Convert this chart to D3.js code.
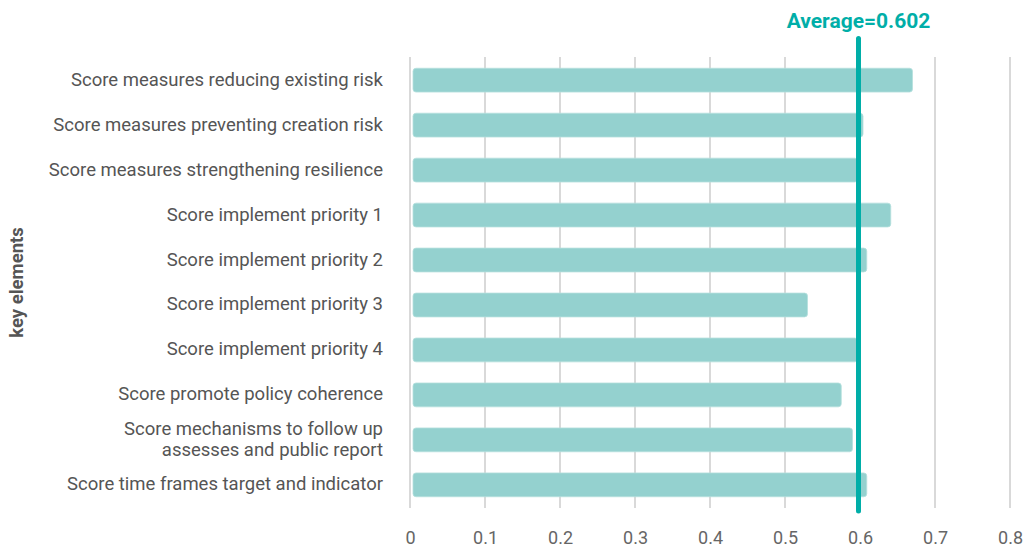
<!DOCTYPE html>
<html><head><meta charset="utf-8">
<script src="https://cdn.jsdelivr.net/npm/d3@7"></script>
<style>
html,body{margin:0;padding:0;background:#fff;}
svg{display:block;font-family:Roboto,"Noto Sans",sans-serif;}
</style></head>
<body>
<svg id="chart" width="1025" height="547"></svg>
<script>
const categories = [
  "Score measures reducing existing risk",
  "Score measures preventing creation risk",
  "Score measures strengthening resilience",
  "Score implement priority 1",
  "Score implement priority 2",
  "Score implement priority 3",
  "Score implement priority 4",
  "Score promote policy coherence",
  "Score mechanisms to follow up\nassesses and public report",
  "Score time frames target and indicator"
];
const values = [0.670, 0.604, 0.597, 0.641, 0.609, 0.530, 0.597, 0.575, 0.590, 0.609];
const averageValue = 0.602;
const averageLabel = "Average=0.602";
const xTicks = [0, 0.1, 0.2, 0.3, 0.4, 0.5, 0.6, 0.7, 0.8];
const yTitle = "key elements";

(function() {
const svg = d3.select("#chart");
const pLeft = 410, pRight = 1010, pTop = 57, pBottom = 508;

const x = d3.scaleLinear().domain([0, 0.8]).range([pLeft, pRight]);
const y = d3.scaleBand().domain(categories).range([pTop, pBottom]).paddingInner(0.47).paddingOuter(0.25);

// gridlines
svg.append("g").selectAll("line").data(xTicks).join("line")
  .attr("x1", d => x(d)).attr("x2", d => x(d))
  .attr("y1", pTop).attr("y2", pBottom)
  .attr("stroke", "#cccccc").attr("stroke-width", 1.5);

// x axis labels
const xAxis = d3.axisBottom(x).tickValues(xTicks).tickSize(0).tickPadding(0)
  .tickFormat(d => d === 0 ? "0" : d3.format(".1f")(d));
const gx = svg.append("g").attr("transform", `translate(0,${pBottom + 36})`).call(xAxis);
gx.select(".domain").remove();
gx.selectAll("text").attr("font-size", 18).attr("fill", "#666").attr("font-family", "Roboto").attr("dy", 0);

// bars
svg.append("g").selectAll("rect").data(values).join("rect")
  .attr("x", x(0) + 3)
  .attr("y", (d, i) => y(categories[i]))
  .attr("width", d => x(d) - x(0) - 3)
  .attr("height", y.bandwidth())
  .attr("rx", 3)
  .attr("fill", "#94d1cf")
  .attr("stroke", "#b5dfdd").attr("stroke-width", 0.8);

// category labels
const yAxis = d3.axisLeft(y).tickSize(0).tickPadding(0).tickFormat(() => "");
const gy = svg.append("g").attr("transform", `translate(${pLeft - 27},0)`).call(yAxis);
gy.select(".domain").remove();
gy.selectAll(".tick").each(function(d) {
  const lines = d.split("\n");
  const t = d3.select(this).select("text")
    .attr("font-size", 18.5).attr("fill", "#555").attr("font-family", "Roboto")
    .attr("text-anchor", "end").attr("dy", null);
  t.text(null);
  const lh = 21;
  lines.forEach((ln, k) => {
    t.append("tspan").attr("x", 0)
      .attr("y", (k - (lines.length - 1) / 2) * lh - 1)
      .attr("dy", "0.35em").text(ln);
  });
});

// y title
svg.append("text")
  .attr("transform", `translate(23,${(pTop + pBottom) / 2}) rotate(-90)`)
  .attr("text-anchor", "middle")
  .attr("font-size", 18.5).attr("font-weight", "bold").attr("fill", "#555")
  .text(yTitle);

// average line
svg.append("line")
  .attr("x1", x(averageValue) - 3).attr("x2", x(averageValue) - 3)
  .attr("y1", 38.5).attr("y2", 511)
  .attr("stroke", "#00aea8").attr("stroke-width", 5).attr("stroke-linecap", "round");

svg.append("text")
  .attr("x", x(averageValue) - 3).attr("y", 28)
  .attr("text-anchor", "middle")
  .attr("font-size", 21).attr("font-weight", "bold").attr("fill", "#00aea8")
  .text(averageLabel);
})();
</script>
</body></html>
